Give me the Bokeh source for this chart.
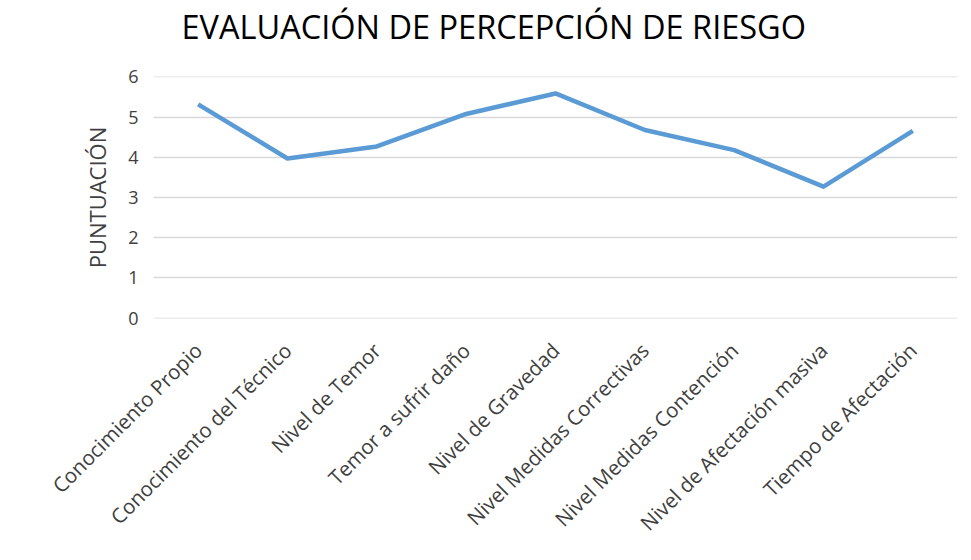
import math
from bokeh.plotting import figure
from bokeh.models import Title, FixedTicker, Range1d
from bokeh.embed import file_html
from bokeh.resources import INLINE

categories = [
    "Conocimiento Propio",
    "Conocimiento del Técnico",
    "Nivel de Temor",
    "Temor a sufrir daño",
    "Nivel de Gravedad",
    "Nivel Medidas Correctivas",
    "Nivel Medidas Contención",
    "Nivel de Afectación masiva",
    "Tiempo de Afectación",
]
puntuacion = [5.32, 3.97, 4.27, 5.08, 5.59, 4.68, 4.18, 3.27, 4.66]
y_ticks = [0, 1, 2, 3, 4, 5, 6]

W, H = 963, 552
p = figure(
    x_range=categories,
    y_range=Range1d(-0.012, 6.012),
    width=W,
    height=H,
    output_backend="svg",
    toolbar_location=None,
    min_border_left=153,
    min_border_right=W - 957,
    min_border_top=76,
    min_border_bottom=H - 318,
)
p.title = None
# spacer between title and plot frame
p.add_layout(Title(text=" ", text_font_size="1px", standoff=20), "above")
p.add_layout(
    Title(
        text="EVALUACIÓN DE PERCEPCIÓN DE RIESGO",
        text_font="Open Sans",
        text_font_size="32.5px",
        text_font_style="normal",
        text_color="#000000",
        align="left",
        vertical_align="top",
        offset=28,
        standoff=6,
    ),
    "above",
)

p.line(categories, puntuacion, line_color="#5B9BD5", line_width=4.5, line_join="round")

p.outline_line_color = None
p.background_fill_color = "white"
p.border_fill_color = "white"

p.xgrid.grid_line_color = None
p.ygrid.grid_line_color = "#d9d9d9"
p.ygrid.grid_line_width = 1.5

p.yaxis.ticker = FixedTicker(ticks=y_ticks)
p.yaxis.axis_line_color = None
p.yaxis.major_tick_line_color = None
p.yaxis.minor_tick_line_color = None
p.yaxis.major_label_text_font = "Open Sans"
p.yaxis.major_label_text_font_size = "18px"
p.yaxis.major_label_text_color = "#404040"
p.yaxis.major_label_standoff = 9
p.yaxis.axis_label = "PUNTUACIÓN"
p.yaxis.axis_label_text_font = "Open Sans"
p.yaxis.axis_label_text_font_size = "22px"
p.yaxis.axis_label_text_font_style = "normal"
p.yaxis.axis_label_text_color = "#404040"
p.yaxis.axis_label_standoff = 13

p.xaxis.axis_line_color = None
p.xaxis.major_tick_line_color = None
p.xaxis.minor_tick_line_color = None
p.xaxis.major_label_orientation = math.pi / 4
p.xaxis.major_label_text_font = "Open Sans"
p.xaxis.major_label_text_font_size = "20.5px"
p.xaxis.major_label_text_color = "#404040"
p.xaxis.major_label_standoff = 22

open("out.html", "w").write(file_html(p, INLINE))
